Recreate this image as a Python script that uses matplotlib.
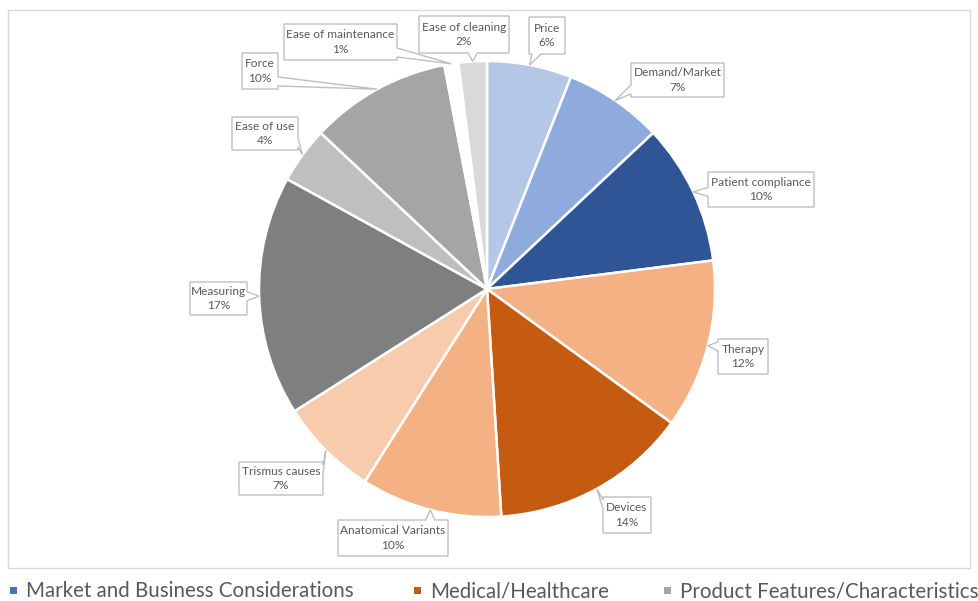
import numpy as np
import matplotlib
matplotlib.use("Agg")
import matplotlib.pyplot as plt
from matplotlib.patches import Polygon, Rectangle

plt.rcParams["font.family"] = ["Lato", "DejaVu Sans"]

# ---- data -------------------------------------------------------------
categories = ["Price", "Demand/Market", "Patient compliance", "Therapy",
              "Devices", "Anatomical Variants", "Trismus causes", "Measuring",
              "Ease of use", "Force", "Ease of maintenance", "Ease of cleaning"]
shares = [6, 7, 10, 12, 14, 10, 7, 17, 4, 10, 1, 2]
slice_colors = ["#B4C7E7", "#8FAADC", "#2F5597", "#F4B183", "#C55A11",
                "#F4B183", "#F8CBAD", "#7F7F7F", "#BFBFBF", "#A5A5A5",
                "#FFFFFF", "#D9D9D9"]
groups = ["Market and Business Considerations", "Medical/Healthcare",
          "Product Features/Characteristics"]
group_colors = ["#4472C4", "#C55A11", "#A5A5A5"]

# ---- layout (pixels) --------------------------------------------------
W, H = 979, 601
CX, CY, R = 487, 289, 228
TEXT = "#595959"
EDGE = "#BFBFBF"

# label boxes: x0, y0, x1, y1 in pixel coordinates (y downward)
boxes = [
    (529, 17, 565, 54),
    (631, 63, 724, 97),
    (708, 172, 814, 207),
    (718, 339, 768, 374),
    (603, 497, 651, 533),
    (338, 520, 448, 556),
    (239, 462, 323, 495),
    (190, 282, 247, 315),
    (232, 117, 298, 150),
    (242, 53, 278, 89),
    (284, 24, 397, 60),
    (419, 16, 509, 53),
]
legend_x = [14, 418, 668]
legend_y = 591

fig = plt.figure(figsize=(W / 100, H / 100), dpi=100)
fig.patch.set_facecolor("white")

# pie axes: square box centred on the pie centre
ax = fig.add_axes([(CX - R) / W, (H - CY - R) / H, 2 * R / W, 2 * R / H])
wedges, _ = ax.pie(shares, colors=slice_colors, startangle=90, counterclock=False,
                   radius=1.0,
                   wedgeprops=dict(edgecolor="white", linewidth=1.8))
ax.set_xlim(-1, 1)
ax.set_ylim(-1, 1)
ax.set_aspect("equal")
ax.axis("off")

# overlay axes in pixel units for border, callouts and legend
ov = fig.add_axes([0, 0, 1, 1], facecolor="none")
ov.set_xlim(0, W)
ov.set_ylim(H, 0)
ov.axis("off")

ov.add_patch(Rectangle((8, 10), 962, 558, fill=False, edgecolor="#D9D9D9", lw=1.0))


def callout(box, tip, half=4.5):
    x0, y0, x1, y1 = box
    tx, ty = tip
    if tx > x1:
        c = np.clip(ty, y0 + half + 3, y1 - half - 3)
        pts = [(x0, y0), (x1, y0), (x1, c - half), (tx, ty), (x1, c + half),
               (x1, y1), (x0, y1)]
    elif tx < x0:
        c = np.clip(ty, y0 + half + 3, y1 - half - 3)
        pts = [(x0, y0), (x1, y0), (x1, y1), (x0, y1), (x0, c + half),
               (tx, ty), (x0, c - half)]
    elif ty > y1:
        c = np.clip(tx, x0 + half + 3, x1 - half - 3)
        pts = [(x0, y0), (x1, y0), (x1, y1), (c + half, y1), (tx, ty),
               (c - half, y1), (x0, y1)]
    else:
        c = np.clip(tx, x0 + half + 3, x1 - half - 3)
        pts = [(x0, y0), (c - half, y0), (tx, ty), (c + half, y0),
               (x1, y0), (x1, y1), (x0, y1)]
    ov.add_patch(Polygon(pts, closed=True, facecolor="white", edgecolor=EDGE,
                         lw=1.0, joinstyle="miter"))


for w, name, val, box in zip(wedges, categories, shares, boxes):
    mid = np.deg2rad((w.theta1 + w.theta2) / 2)
    tip = (CX + R * np.cos(mid), CY - R * np.sin(mid))
    callout(box, tip)
    x0, y0, x1, y1 = box
    ov.text((x0 + x1) / 2, (y0 + y1) / 2, f"{name}\n{val}%", ha="center",
            va="center", fontsize=8.6, color=TEXT, linespacing=1.4)

# legend
for x, g, col in zip(legend_x, groups, group_colors):
    ov.add_patch(Rectangle((x - 4, legend_y - 4), 7, 7, facecolor=col, edgecolor="none"))
    ov.text(x + 12, legend_y, g, ha="left", va="center", fontsize=14.8, color=TEXT)

fig.savefig("out.png", dpi=100, facecolor="white")
